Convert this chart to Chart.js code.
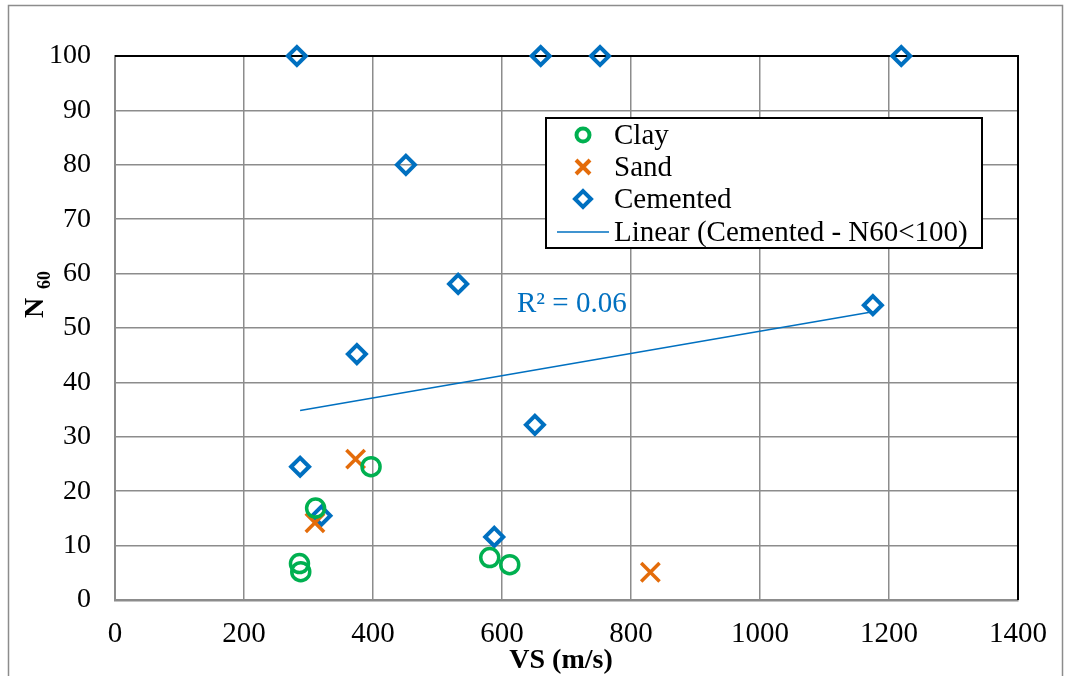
<!DOCTYPE html>
<html>
<head>
<meta charset="utf-8">
<script src="https://cdn.jsdelivr.net/npm/chart.js@4/dist/chart.umd.min.js"></script>
<style>
  html, body { margin: 0; padding: 0; background: #fff; }
  #wrap { width: 1065px; height: 676px; }
</style>
</head>
<body>
<div id="wrap"><canvas id="vsChart" width="1065" height="676"></canvas></div>
<script>
// values
var clayVs = [397, 311, 286, 288, 581, 612];
var clayN = [24.5, 16.9, 6.7, 5.2, 7.8, 6.5];
var sandVs = [373, 310, 830];
var sandN = [25.9, 14.2, 5.1];
var cemVs = [282, 660, 752, 1219, 451, 532, 375, 1175, 651, 287, 320, 588];
var cemN = [100, 100, 100, 100, 80, 58.1, 45.2, 54.2, 32.2, 24.5, 15.5, 11.6];
var xTicks = [0, 200, 400, 600, 800, 1000, 1200, 1400];
var yTicks = [0, 10, 20, 30, 40, 50, 60, 70, 80, 90, 100];
var legendLabels = ['Clay', 'Sand', 'Cemented', 'Linear (Cemented - N60<100)'];

var CLAY = '#00B050', SAND = '#E46C0A', CEM = '#0070C0';
var FONT = '"Liberation Serif", "Times New Roman", serif';

function toPoints(xs, ys){
	return xs.map(function(x, i){ return {x: x, y: ys[i]}; });
}

// linear trend on the cemented points with N60 < 100 (like the Excel trendline)
function linearFit(xs, ys){
	var px = [], py = [];
	xs.forEach(function(x, i){
		if(ys[i] < 100){ px.push(x); py.push(ys[i]); }
	});
	var n = px.length;
	var mx = px.reduce(function(a, b){ return a + b; }, 0) / n;
	var my = py.reduce(function(a, b){ return a + b; }, 0) / n;
	var sxy = 0, sxx = 0, syy = 0;
	for(var i = 0; i < n; i++){
		sxy += (px[i] - mx) * (py[i] - my);
		sxx += (px[i] - mx) * (px[i] - mx);
		syy += (py[i] - my) * (py[i] - my);
	}
	var slope = sxy / sxx;
	var icpt = my - slope * mx;
	var xmin = Math.min.apply(null, px), xmax = Math.max.apply(null, px);
	return {
		points: [{x: xmin, y: icpt + slope * xmin}, {x: xmax, y: icpt + slope * xmax}],
		r2: (sxy * sxy) / (sxx * syy)
	};
}

var fit = linearFit(cemVs, cemN);

var decorPlugin = {
	id: 'decor',
	beforeDatasetsDraw: function(chart){
		var ctx = chart.ctx, a = chart.chartArea;
		ctx.save();
		// black plot-area border on top and right
		ctx.strokeStyle = '#000';
		ctx.lineWidth = 2;
		ctx.beginPath();
		ctx.moveTo(a.left, a.top);
		ctx.lineTo(a.right, a.top);
		ctx.lineTo(a.right, a.bottom);
		ctx.stroke();
		ctx.restore();
	},
	afterDraw: function(chart){
		var ctx = chart.ctx;
		ctx.save();
		// outer frame
		ctx.strokeStyle = '#8c8c8c';
		ctx.lineWidth = 1.5;
		ctx.strokeRect(8.5, 5.5, 1054, 700);

		// R² label
		ctx.fillStyle = CEM;
		ctx.font = '29px ' + FONT;
		ctx.textAlign = 'left';
		ctx.textBaseline = 'middle';
		ctx.fillText('R\u00B2 = ' + fit.r2.toFixed(2), 517, 304);

		// axis titles
		ctx.fillStyle = '#000';
		ctx.font = 'bold 28px ' + FONT;
		ctx.textAlign = 'center';
		ctx.fillText('VS (m/s)', 561, 661);

		ctx.save();
		ctx.translate(36, 308);
		ctx.rotate(-Math.PI / 2);
		ctx.font = 'bold 28px ' + FONT;
		ctx.textAlign = 'center';
		ctx.fillText('N', 0, 0);
		ctx.font = 'bold 18px ' + FONT;
		ctx.textAlign = 'left';
		ctx.fillText('60', 19, 9);
		ctx.restore();

		// legend box
		var lx = 546, ly = 118, lw = 436, lh = 130;
		ctx.fillStyle = '#fff';
		ctx.fillRect(lx, ly, lw, lh);
		ctx.strokeStyle = '#000';
		ctx.lineWidth = 2;
		ctx.strokeRect(lx, ly, lw, lh);
		var rows = [135, 167, 199, 232];
		var mxc = 583;
		ctx.lineWidth = 4;
		// clay
		ctx.strokeStyle = CLAY;
		ctx.beginPath(); ctx.arc(mxc, rows[0], 6.5, 0, Math.PI * 2); ctx.stroke();
		// sand
		ctx.strokeStyle = SAND;
		ctx.beginPath();
		ctx.moveTo(mxc - 7, rows[1] - 7); ctx.lineTo(mxc + 7, rows[1] + 7);
		ctx.moveTo(mxc + 7, rows[1] - 7); ctx.lineTo(mxc - 7, rows[1] + 7);
		ctx.stroke();
		// cemented
		ctx.strokeStyle = CEM;
		ctx.beginPath();
		ctx.moveTo(mxc - 8, rows[2]); ctx.lineTo(mxc, rows[2] - 8);
		ctx.lineTo(mxc + 8, rows[2]); ctx.lineTo(mxc, rows[2] + 8);
		ctx.closePath(); ctx.stroke();
		// trend line
		ctx.lineWidth = 1.5;
		ctx.beginPath(); ctx.moveTo(557, rows[3]); ctx.lineTo(609, rows[3]); ctx.stroke();

		ctx.fillStyle = '#000';
		ctx.font = '29px ' + FONT;
		ctx.textAlign = 'left';
		ctx.textBaseline = 'middle';
		legendLabels.forEach(function(t, i){ ctx.fillText(t, 614, rows[i] + 1); });
		ctx.restore();
	}
};

new Chart(document.getElementById('vsChart'), {
	type: 'scatter',
	data: {
		datasets: [{
			label: legendLabels[0],
			data: toPoints(clayVs, clayN),
			pointStyle: 'circle',
			pointRadius: 9,
			pointBorderWidth: 3.5,
			borderColor: CLAY,
			backgroundColor: 'rgba(0,0,0,0)',
			clip: false
		}, {
			label: legendLabels[1],
			data: toPoints(sandVs, sandN),
			pointStyle: 'crossRot',
			pointRadius: 13,
			pointBorderWidth: 3.5,
			borderColor: SAND,
			backgroundColor: SAND,
			clip: false
		}, {
			label: legendLabels[2],
			data: toPoints(cemVs, cemN),
			pointStyle: 'rectRot',
			pointRadius: 9,
			pointBorderWidth: 4,
			borderColor: CEM,
			backgroundColor: 'rgba(0,0,0,0)',
			clip: false
		}, {
			type: 'line',
			label: legendLabels[3],
			data: fit.points,
			borderColor: CEM,
			borderWidth: 1.5,
			pointRadius: 0,
			fill: false
		}]
	},
	plugins: [decorPlugin],
	options: {
		responsive: false,
		animation: false,
		layout: {padding: {left: 8, top: 56, right: 47, bottom: 0}},
		plugins: {legend: {display: false}, tooltip: {enabled: false}},
		scales: {
			x: {
				type: 'linear', min: 0, max: 1400,
				afterFit: function(s){ s.height = 76; },
				afterBuildTicks: function(s){ s.ticks = xTicks.map(function(v){ return {value: v}; }); },
				grid: {color: '#8c8c8c', lineWidth: 1.5, drawTicks: false},
				border: {color: '#8c8c8c', width: 2.5},
				ticks: {color: '#000', font: {family: FONT, size: 29}, padding: 17, maxRotation: 0,
					callback: function(v){ return String(v); }}
			},
			y: {
				type: 'linear', min: 0, max: 100,
				afterFit: function(s){ s.width = 107; },
				afterBuildTicks: function(s){ s.ticks = yTicks.map(function(v){ return {value: v}; }); },
				grid: {color: '#8c8c8c', lineWidth: 1.5, drawTicks: false},
				border: {color: '#8c8c8c', width: 2},
				ticks: {color: '#000', font: {family: FONT, size: 28}, padding: 24,
					callback: function(v){ return String(v); }}
			}
		}
	}
});
</script>
</body>
</html>
